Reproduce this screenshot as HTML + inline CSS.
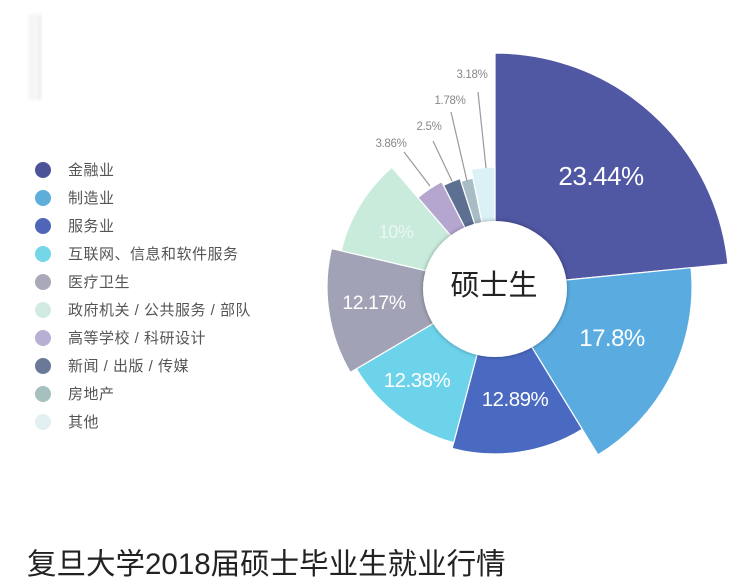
<!DOCTYPE html>
<html>
<head>
<meta charset="utf-8">
<style>
  html,body{margin:0;padding:0;background:#fff;}
  body{width:734px;height:584px;overflow:hidden;position:relative;}
  svg{position:absolute;left:0;top:0;}
  .cn{font-family:"Liberation Sans","Noto Sans CJK SC",sans-serif;}
</style>
</head>
<body>
<svg width="734" height="584" viewBox="0 0 734 584" xmlns="http://www.w3.org/2000/svg">
  <defs>
    <filter id="sh" x="-20%" y="-20%" width="140%" height="140%">
      <feGaussianBlur in="SourceAlpha" stdDeviation="2.5"/>
      <feOffset dx="0" dy="0" result="b"/>
      <feComponentTransfer><feFuncA type="linear" slope="0.35"/></feComponentTransfer>
      <feMerge><feMergeNode/><feMergeNode in="SourceGraphic"/></feMerge>
    </filter>
    <filter id="blur1"><feGaussianBlur stdDeviation="1.5"/></filter>
  </defs>

  <!-- faint top-left artifact -->
  <g filter="url(#blur1)">
    <rect x="28" y="14" width="13" height="86" fill="#f6f6f6"/>
    <line x1="40" y1="15" x2="40" y2="100" stroke="#e6e6e6" stroke-width="2"/>
  </g>

  <!-- legend -->
  <g class="cn" font-size="15" fill="#555" letter-spacing="0.5">
    <circle cx="43" cy="170" r="8" fill="#4d5398"/>
    <text x="68" y="175">金融业</text>
    <circle cx="43" cy="198" r="8" fill="#5eaedc"/>
    <text x="68" y="203">制造业</text>
    <circle cx="43" cy="226" r="8" fill="#4f66b8"/>
    <text x="68" y="231">服务业</text>
    <circle cx="43" cy="254" r="8" fill="#74d6e6"/>
    <text x="68" y="259">互联网、信息和软件服务</text>
    <circle cx="43" cy="282" r="8" fill="#a9a9b9"/>
    <text x="68" y="287">医疗卫生</text>
    <circle cx="43" cy="310" r="8" fill="#d2ebe2"/>
    <text x="68" y="315">政府机关 / 公共服务 / 部队</text>
    <circle cx="43" cy="338" r="8" fill="#b9aed3"/>
    <text x="68" y="343">高等学校 / 科研设计</text>
    <circle cx="43" cy="366" r="8" fill="#6a7997"/>
    <text x="68" y="371">新闻 / 出版 / 传媒</text>
    <circle cx="43" cy="394" r="8" fill="#a6bfbf"/>
    <text x="68" y="399">房地产</text>
    <circle cx="43" cy="422" r="8" fill="#e2f0f2"/>
    <text x="68" y="427">其他</text>
  </g>

  <!-- pie slices, center (495,287) -->
  <g stroke="#fff" stroke-width="1.2" stroke-linejoin="round">
    <path d="M495,287 L495,53 A234,234 0 0 1 727.9,264.1 Z" fill="#5057a3"/>
    <path d="M495,287 L691.1,267.7 A197,197 0 0 1 598.0,454.9 Z" fill="#5aace0"/>
    <path d="M495,287 L582.3,429.3 A167,167 0 0 1 452.1,448.4 Z" fill="#4a6ac2"/>
    <path d="M495,287 L453.7,442.6 A161,161 0 0 1 356.4,368.9 Z" fill="#6dd3ea"/>
    <path d="M495,287 L350.3,372.4 A168,168 0 0 1 331.5,248.5 Z" fill="#a2a2b6"/>
    <path d="M495,287 L341.2,250.8 A158,158 0 0 1 391.9,167.3 Z" fill="#c8ebdc"/>
    <path d="M495,287 L418.0,197.6 A118,118 0 0 1 441.7,181.7 Z" fill="#b5a6d0"/>
    <path d="M495,287 L443.5,185.3 A114,114 0 0 1 460.0,178.5 Z" fill="#5e7092"/>
    <path d="M495,287 L461.0,181.3 A111,111 0 0 1 473.0,178.2 Z" fill="#a7bcc4"/>
    <path d="M495,287 L471.2,169.4 A120,120 0 0 1 495,167 Z" fill="#dcf1f6"/>
  </g>

  <!-- inner circle -->
  <ellipse cx="495" cy="289" rx="72" ry="68" fill="#fff" filter="url(#sh)"/>
  <text x="494" y="295" text-anchor="middle" class="cn" font-size="29" fill="#222">硕士生</text>

  <!-- leader lines -->
  <g stroke="#9a9a9a" stroke-width="1.2">
    <line x1="478" y1="92" x2="486" y2="168"/>
    <line x1="451" y1="112" x2="467" y2="181"/>
    <line x1="433" y1="141" x2="452" y2="181"/>
    <line x1="404" y1="152" x2="430" y2="186"/>
  </g>
  <g font-family="Liberation Sans, sans-serif" font-size="11.5" fill="#888" letter-spacing="-0.3">
    <text x="472" y="78" text-anchor="middle">3.18%</text>
    <text x="450" y="104" text-anchor="middle">1.78%</text>
    <text x="429" y="130" text-anchor="middle">2.5%</text>
    <text x="391" y="147" text-anchor="middle">3.86%</text>
  </g>

  <!-- slice labels -->
  <g font-family="Liberation Sans, sans-serif" fill="#fff" text-anchor="middle" letter-spacing="-0.5">
    <text x="601" y="185" font-size="26">23.44%</text>
    <text x="612" y="346" font-size="24">17.8%</text>
    <text x="515" y="406" font-size="20.5">12.89%</text>
    <text x="417" y="387" font-size="20.5">12.38%</text>
    <text x="374" y="309" font-size="19.5">12.17%</text>
    <text x="396" y="238" font-size="18" fill="#eaf7f1">10%</text>
  </g>

  <!-- title -->
  <text x="27" y="574" class="cn" font-size="29.5" fill="#222">复旦大学2018届硕士毕业生就业行情</text>
</svg>
</body>
</html>
